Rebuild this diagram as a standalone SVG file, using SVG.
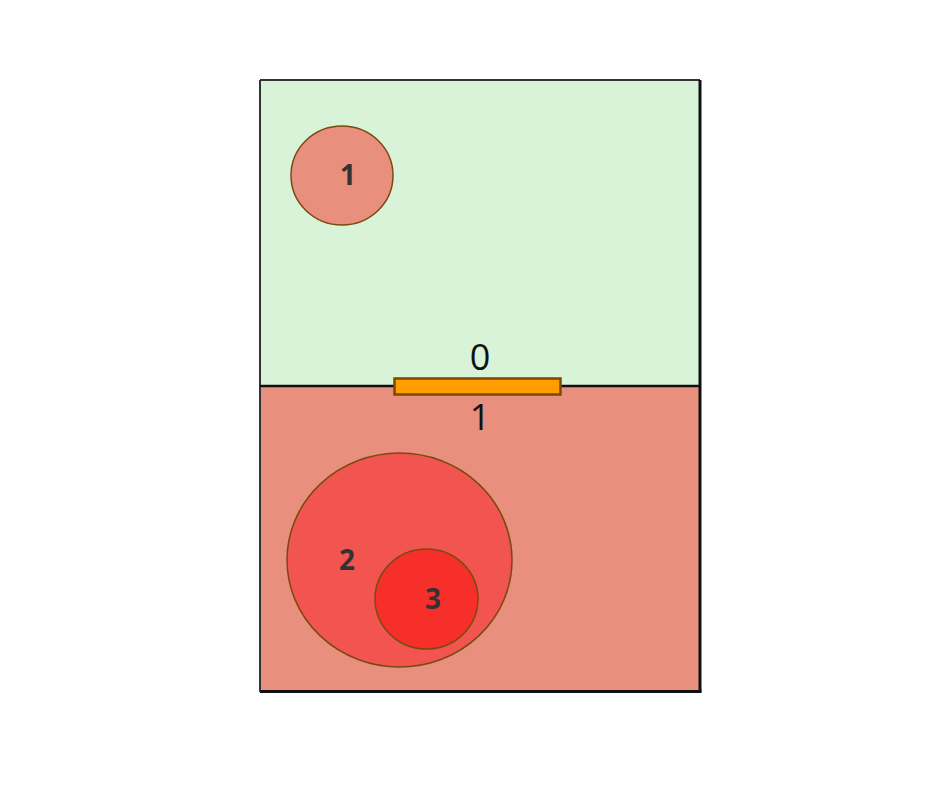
<svg xmlns="http://www.w3.org/2000/svg" width="927" height="808" viewBox="0 0 927 808">
<style>
.lbl{font-family:"Open Sans","Liberation Sans",sans-serif;font-weight:bold;font-size:28px;fill:#333;text-anchor:middle}
.big{font-family:"Open Sans","Liberation Sans",sans-serif;font-size:36px;fill:#111;text-anchor:middle}
.c{stroke:#7a4a10;stroke-width:1.5}
</style>
<rect width="927" height="808" fill="#fff"/>
<g id="zone0"><rect x="260" y="80" width="440" height="306" fill="#d8f3d8"/></g>
<g id="zone1"><rect x="260" y="386" width="440" height="306" fill="#e88f7d"/></g>
<g id="frame" fill="none" stroke="#111">
<line x1="260" y1="80" x2="700" y2="80" stroke-width="2" stroke="#333"/>
<line x1="260" y1="80" x2="260" y2="692" stroke-width="2" stroke="#333"/>
<line x1="700" y1="80" x2="700" y2="692" stroke-width="3"/>
<line x1="260" y1="691.5" x2="701.5" y2="691.5" stroke-width="3"/>
<line x1="260" y1="386" x2="700" y2="386" stroke-width="2.5"/>
</g>
<g id="node1"><ellipse class="c" cx="342" cy="175.5" rx="51" ry="49.5" fill="#e88f7d"/><text class="lbl" x="348" y="184.5">1</text></g>
<g id="node2"><ellipse class="c" cx="399.5" cy="560" rx="112.5" ry="107" fill="#f2554f"/><text class="lbl" x="347" y="569.5">2</text></g>
<g id="node3"><ellipse class="c" cx="426.5" cy="599" rx="51.5" ry="50" fill="#f72f2a"/><text class="lbl" x="433" y="608.5">3</text></g>
<g id="door"><rect x="394.5" y="378.5" width="166" height="16" fill="#ff9d00" stroke="#7a4a00" stroke-width="2.5"/></g>
<g id="labels"><text class="big" x="480" y="370">0</text><text class="big" x="480" y="430">1</text></g>
</svg>
